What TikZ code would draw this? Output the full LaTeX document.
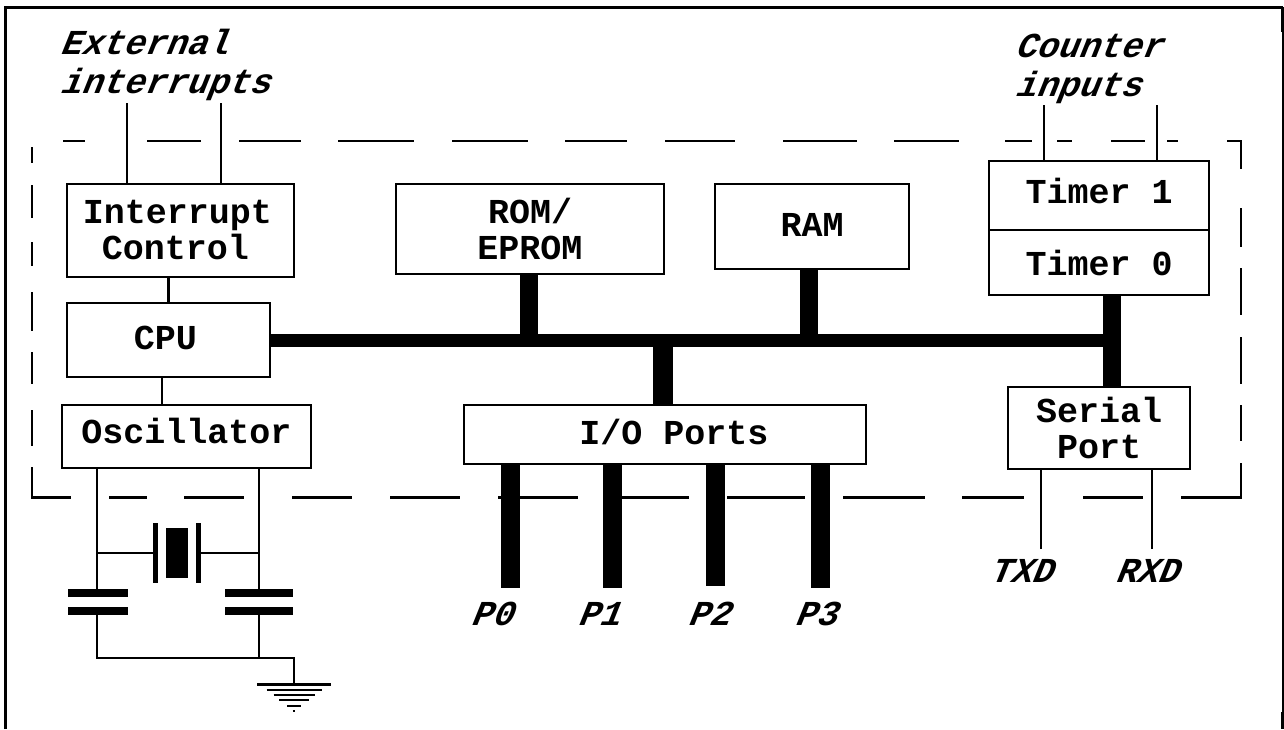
\documentclass[tikz,border=0pt]{standalone}
\usepackage{fontspec}
\setmonofont{Liberation Mono}
\newfontfamily\slantmono[FakeSlant=0.4]{Liberation Mono Bold}
\newcommand{\blocktext}{\fontsize{17.5}{18}\selectfont\ttfamily\bfseries}
\newcommand{\pintext}{\fontsize{17.5}{18}\selectfont\slantmono}
\tikzset{
    blockbox/.style={draw, line width=1.25pt, fill=white, outer sep=0pt, inner sep=0pt, align=center, font=\blocktext},
    pinlabel/.style={inner sep=0pt, align=left, font=\pintext},
    wire/.style={line width=1.25pt},
    busline/.style={line width=9pt},
    mainbus/.style={line width=6.5pt},
    portline/.style={line width=9.5pt},
    plate/.style={line width=4pt},
    chipedge/.style={line width=1.25pt},
    outerframe/.style={line width=1.5pt}
}
\begin{document}
\begin{tikzpicture}[x=0.5pt, y=-0.5pt]
    \useasboundingbox (0, 0) rectangle (1284, 729);
    % outer frame
    \draw[outerframe] (5.5, 729) -- (5.5, 7) -- (1283, 7);
    \draw[line width=0.6pt] (1283, 7) -- (1283, 729);
    \fill (1281, 7) rectangle (1284, 32);
    \fill (1281, 712) rectangle (1284, 729);

    % chip boundary
    \foreach \a/\b in {63/85, 147/201, 239/301, 338/414, 452/528, 565/627, 665/735, 783/857, 894/959, 1005/1032, 1057/1072, 1111/1145, 1167/1178}
        \draw[chipedge] (\a, 141) -- (\b, 141);
    \foreach \a/\b in {109/147, 184/244, 292/352, 390/460, 498/578, 620/689, 727/805, 843/925, 962/1024, 1083/1143}
        \draw[chipedge] (\a, 497.5) -- (\b, 497.5);
    \foreach \a/\b in {147/163, 185/218, 242/266, 292/331, 352/384, 410/446}
        \draw[chipedge] (32, \a) -- (32, \b);
    \foreach \a/\b in {208/247, 268/315, 337/384, 405/441}
        \draw[chipedge] (1241, \a) -- (1241, \b);
    \draw[chipedge] (1227, 141) -| (1241, 169);
    \draw[chipedge] (32, 467) |- (71, 497.5);
    \draw[chipedge] (1181, 497.5) -| (1241, 463);

    % blocks
    \node[blockbox, minimum width=113.5pt, minimum height=46.5pt] (intctl) at (180.5, 230.5) {Interrupt\hspace*{3pt}\\Control\hspace*{5pt}};
    \node[blockbox, text depth=2pt, minimum width=101.5pt, minimum height=37pt] (cpu) at (168.5, 340) {CPU\hspace*{3pt}};
    \node[blockbox, text depth=6pt, minimum width=124.5pt, minimum height=31.5pt] (osc) at (186.5, 436.5) {Oscillator};
    \node[blockbox, minimum width=134pt, minimum height=45pt] (rom) at (530, 229) {ROM/\\EPROM};
    \node[blockbox, text depth=2pt, minimum width=97pt, minimum height=42.5pt] (ram) at (812, 226.5) {RAM};
    \node[blockbox, text depth=5pt, minimum width=110pt, minimum height=34.5pt] (timerB) at (1099, 195.5) {Timer 1};
    \node[blockbox, minimum width=110pt, minimum height=32.5pt] (timerA) at (1099, 262.5) {Timer 0};
    \node[blockbox, minimum width=91pt, minimum height=41pt] (serial) at (1099, 428) {Serial\\Port};
    \node[blockbox, text depth=3pt, minimum width=201pt, minimum height=29.5pt] (ports) at (665, 434.5) {\hspace*{9pt}I/O Ports};

    % labels
    \node[pinlabel, anchor=west] (extlabel) at (59, 64.5) {External\\[1.5pt]interrupts};
    \node[pinlabel, anchor=west] (cntlabel) at (1014, 69) {Counter\\[1.5pt]inputs};
    \node[pinlabel] (txdlabel) at (1020, 571) {TXD};
    \node[pinlabel] (rxdlabel) at (1146, 571) {RXD};
    \node[pinlabel] (pzero) at (491, 614) {P0};
    \node[pinlabel] (pone) at (598, 614) {P1};
    \node[pinlabel] (ptwo) at (708, 614) {P2};
    \node[pinlabel] (pthree) at (815, 614) {P3};

    % free ends of the connectors
    \coordinate (extA) at (127, 103);
    \coordinate (extB) at (221, 103);
    \coordinate (cntA) at (1044, 105);
    \coordinate (cntB) at (1157, 105);
    \coordinate (txd) at (1041, 549);
    \coordinate (rxd) at (1152, 549);
    \coordinate (clk) at (162, 390);
    \coordinate (romtap) at (529, 340);
    \coordinate (ramtap) at (809, 340);
    \coordinate (iotap) at (663, 340);
    \coordinate (busend) at (1112, 340);
    \coordinate (portA) at (510, 588);
    \coordinate (portB) at (612, 588);
    \coordinate (portC) at (715, 586);
    \coordinate (portD) at (820, 588);

    % thin wires
    \draw[wire] (extA) -- (extA |- intctl.north);
    \draw[wire] (extB) -- (extB |- intctl.north);
    \draw[wire] (cntA) -- (cntA |- timerB.north);
    \draw[wire] (cntB) -- (cntB |- timerB.north);
    \draw[wire] (txd) -- (txd |- serial.south);
    \draw[wire] (rxd) -- (rxd |- serial.south);
    \draw[wire] (intctl.south -| cpu.north) -- (cpu.north);
    \draw[wire] (clk |- cpu.south) -- (clk |- osc.north);

    % buses
    \draw[mainbus] (cpu.east) -- (busend);
    \draw[busline] (romtap) -- (romtap |- rom.south);
    \draw[busline] (ramtap) -- (ramtap |- ram.south);
    \draw[busline, line width=10pt] (iotap) -- (iotap |- ports.north);
    \draw[busline] (busend |- timerA.south) -- (busend |- serial.north);
    \draw[portline] (portA |- ports.south) -- (portA);
    \draw[portline] (portB |- ports.south) -- (portB);
    \draw[portline] (portC |- ports.south) -- (portC);
    \draw[portline] (portD |- ports.south) -- (portD);

    % crystal and capacitors
    \coordinate (legA) at (97, 553);
    \coordinate (legB) at (259, 553);
    \draw[wire] (legA |- osc.south) -- (legA |- 0, 592);
    \draw[wire] (legB |- osc.south) -- (legB |- 0, 592);
    \draw[wire] (legA) -- (155, 553);
    \draw[wire] (legB) -- (199, 553);
    \draw[line width=2.5pt] (155.5, 523) -- (155.5, 583);
    \draw[line width=2.5pt] (198.5, 523) -- (198.5, 583);
    \fill (166, 528) rectangle (188, 578);
    \draw[plate] (68, 592.5) -- (128, 592.5);
    \draw[plate] (68, 611) -- (128, 611);
    \draw[plate] (225, 592.5) -- (293, 592.5);
    \draw[plate] (225, 611) -- (293, 611);

    % ground
    \coordinate (gnd) at (294, 684);
    \draw[wire] (legA |- 0, 611) |- (gnd |- 0, 658) -- (gnd);
    \draw[wire] (legB |- 0, 611) -- (legB |- 0, 658);
    \foreach \w/\d/\t in {37/0/3, 27.5/6/2.5, 20.5/11/2.5, 15/16/2.5, 7/22/2.5, 1.2/27/2.5}
        \draw[line width=\t*0.5pt] ([xshift=-\w*0.5pt, yshift=-\d*0.5pt]gnd) -- ([xshift=\w*0.5pt, yshift=-\d*0.5pt]gnd);
\end{tikzpicture}
\end{document}
